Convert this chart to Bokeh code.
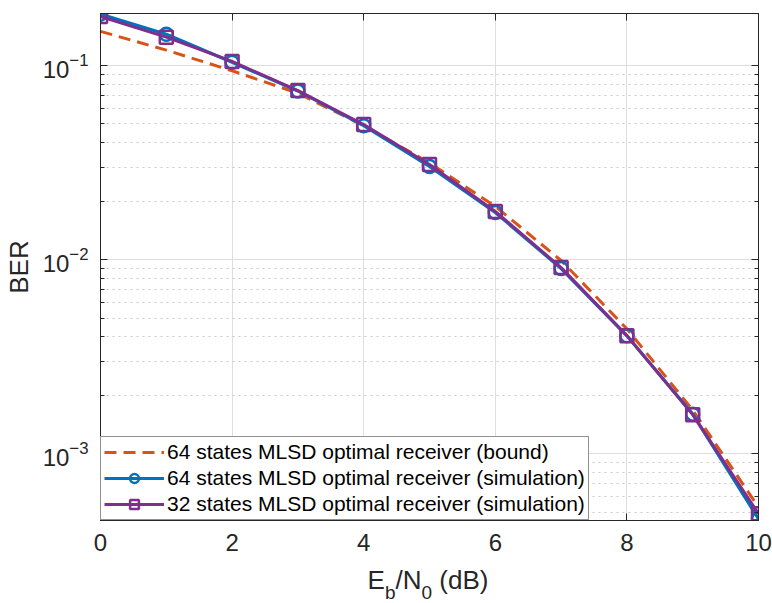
from bokeh.plotting import figure
from bokeh.layouts import column
from bokeh.models import (Range1d, FixedTicker, LogAxis, LinearAxis, Div,
                          Legend, LegendItem, LogTickFormatter, CustomJSTickFormatter)
from bokeh.embed import file_html
from bokeh.resources import INLINE

# ---- data ----
ebn0 = [0, 1, 2, 3, 4, 5, 6, 7, 8, 9, 10]
ber_bound_64 = [0.150, 0.120, 0.094, 0.072, 0.049, 0.0315, 0.0188, 0.0099, 0.0044, 0.00168, 0.00053]
ber_sim_64 = [0.184, 0.145, 0.104, 0.0740, 0.0490, 0.0302, 0.0175, 0.0090, 0.00405, 0.00160, 0.000462]
ber_sim_32 = [0.179, 0.140, 0.105, 0.0743, 0.0497, 0.0309, 0.0177, 0.0091, 0.00406, 0.00159, 0.000491]
x_ticks = [0, 2, 4, 6, 8, 10]
y_ticks = [1e-3, 1e-2, 1e-1]
y_minor = [k * 10.0 ** e for e in (-4, -3, -2, -1) for k in range(2, 10)]
labels = ["64 states MLSD optimal receiver (bound)",
          "64 states MLSD optimal receiver (simulation)",
          "32 states MLSD optimal receiver (simulation)"]

FONT = "Liberation Sans"
AX = "#262626"

p = figure(x_range=Range1d(0, 10), y_range=Range1d(4.53e-4, 0.1854),
           y_axis_type="log", frame_width=658, frame_height=507,
           min_border_left=99, min_border_right=14, min_border_top=13,
           min_border_bottom=45, output_backend="svg", toolbar_location=None,
           background_fill_color="white", border_fill_color="white")
p.outline_line_color = AX

xt = FixedTicker(ticks=x_ticks)
yt = FixedTicker(ticks=y_ticks, minor_ticks=y_minor)
p.xaxis.ticker = xt
p.yaxis.ticker = yt
p.yaxis.formatter = LogTickFormatter()

for ax in (p.xaxis[0], p.yaxis[0]):
    ax.axis_line_color = AX
    ax.major_tick_line_color = AX
    ax.minor_tick_line_color = AX
    ax.major_tick_in = 7
    ax.major_tick_out = 0
    ax.minor_tick_in = 4
    ax.minor_tick_out = 0
    ax.major_label_text_font = FONT
    ax.major_label_text_font_size = "24px"
    ax.major_label_text_color = AX
    ax.axis_label_text_font = FONT
    ax.axis_label_text_font_style = "normal"
    ax.axis_label_text_color = AX
    ax.axis_label_text_font_size = "26px"
p.xaxis.major_label_standoff = 13
p.yaxis.major_label_standoff = 12
p.yaxis.axis_label = "BER"
p.yaxis.axis_label_standoff = 6

# box axes (top, right) without labels
blank = CustomJSTickFormatter(code="return ''")
top = LinearAxis(ticker=xt, formatter=blank, major_tick_in=7, major_tick_out=0,
                 minor_tick_in=0, minor_tick_out=0,
                 major_label_text_font_size="1px", major_label_standoff=0,
                 axis_line_color=AX, major_tick_line_color=AX)
right = LogAxis(ticker=yt, formatter=blank, major_tick_in=7, major_tick_out=0,
                minor_tick_in=4, minor_tick_out=0,
                major_label_text_font_size="1px", major_label_standoff=0,
                axis_line_color=AX, major_tick_line_color=AX, minor_tick_line_color=AX)
p.add_layout(top, "above")
p.add_layout(right, "right")

p.xgrid.grid_line_color = "#dedede"
p.xgrid.grid_line_width = 1
p.ygrid.grid_line_color = "#dedede"
p.ygrid.minor_grid_line_color = "#c8c8c8"
p.ygrid.minor_grid_line_dash = "2 4"

r_bound = p.line(ebn0, ber_bound_64, line_color="#D95319", line_width=3, line_dash="12 7")
r64l = p.line(ebn0, ber_sim_64, line_color="#0072BD", line_width=3.2)
r64m = p.scatter(ebn0, ber_sim_64, marker="circle", size=13, fill_color=None,
                 line_color="#0072BD", line_width=2.5)
r32l = p.line(ebn0, ber_sim_32, line_color="#7E2F8E", line_width=3)
r32m = p.scatter(ebn0, ber_sim_32, marker="square", size=13, fill_color=None,
                 line_color="#7E2F8E", line_width=2.5)

legend = Legend(items=[LegendItem(label=labels[0], renderers=[r_bound]),
                       LegendItem(label=labels[1], renderers=[r64l, r64m]),
                       LegendItem(label=labels[2], renderers=[r32l, r32m])],
                location="bottom_left", margin=0, padding=3, spacing=2,
                glyph_width=60, glyph_height=22, label_height=22, label_standoff=3,
                label_text_font=FONT, label_text_font_size="21px", label_text_color="black",
                border_line_color=AX, border_line_width=1, background_fill_alpha=1)
p.add_layout(legend, "center")

# x-axis label with subscripts (below the figure)
sub = "font-size:19px;vertical-align:-10px;line-height:0"
xlabel = Div(text=(f'<div style="width:658px;font-family:\'{FONT}\';font-size:26px;color:{AX};'
                   f'text-align:center;line-height:30px;white-space:nowrap">'
                   f'E<span style="{sub}">b</span>/N<span style="{sub}">0</span> (dB)</div>'),
             width=658, height=34, margin=(0, 0, 0, 99),
             styles={"width": "658px", "text-align": "center"})

layout = column(p, xlabel, spacing=0)
open("out.html", "w").write(file_html(layout, INLINE))
